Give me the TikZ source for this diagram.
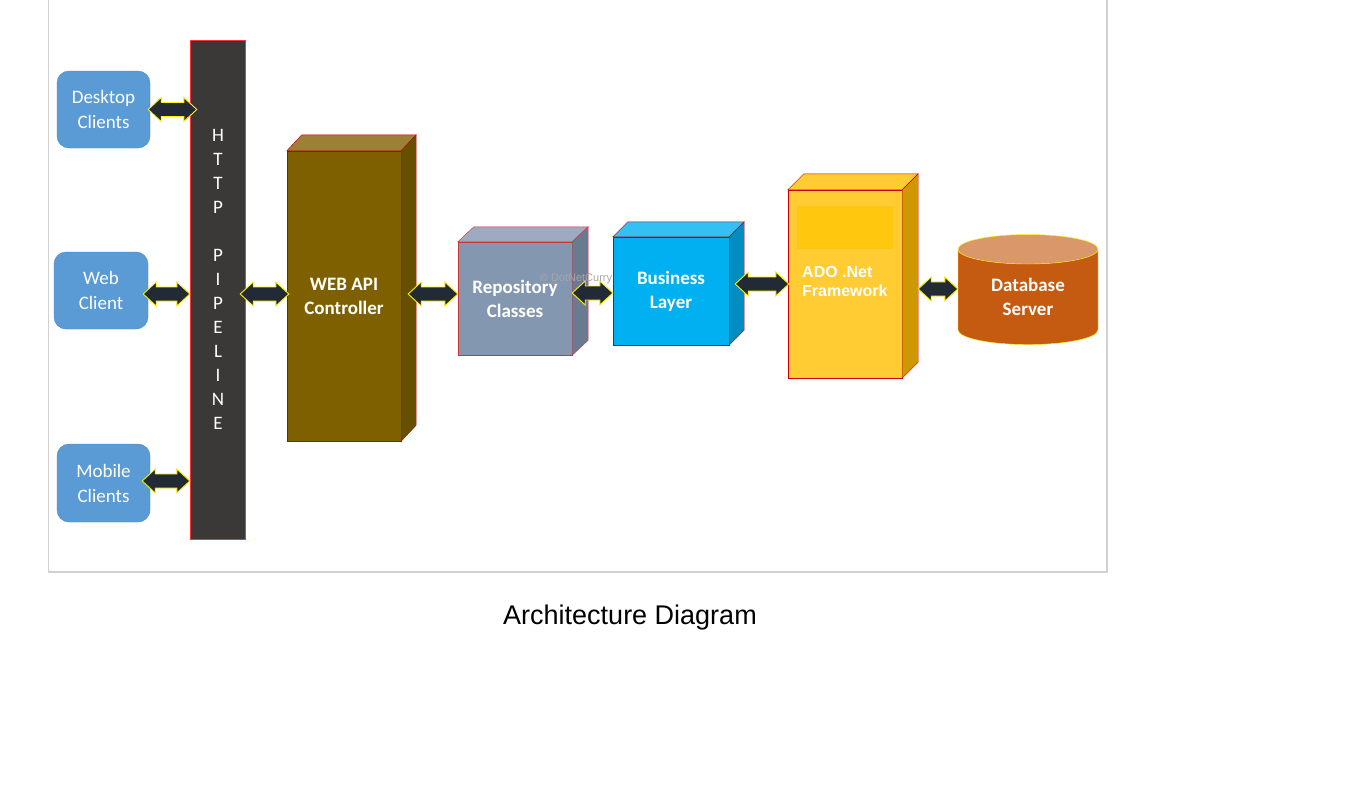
\documentclass[tikz,border=0pt]{standalone}
\usepackage{fontspec}
\setmainfont{Carlito}
\newfontfamily\arialfont{Liberation Sans}
\usetikzlibrary{calc, shapes.geometric}

\definecolor{clientblue}{HTML}{5B9BD5}
\definecolor{clientedge}{HTML}{4A86BE}
\definecolor{pipegray}{HTML}{3B3838}
\definecolor{arrowdark}{HTML}{222A35}
\definecolor{boxred}{HTML}{C00000}

\tikzset{
  client/.style={rounded corners=12pt, fill=clientblue, draw=clientedge, text=white,
    inner sep=0pt, align=center, font=\fontsize{19}{25}\selectfont},
  front/.style={inner sep=0pt, draw=boxred, text=white, align=center,
    font=\bfseries\fontsize{19}{24}\selectfont},
  dblarrow/.style={fill=arrowdark, draw=yellow, line width=0.9pt, line join=miter,
    to path={let \p1=(\tikztostart), \p2=(\tikztotarget) in
      (\x1,\y1) -- (\x1+13pt,\y1+12pt) -- (\x1+13pt,\y1+7pt) -- (\x2-13pt,\y1+7pt)
      -- (\x2-13pt,\y1+12pt) -- (\x2,\y1) -- (\x2-13pt,\y1-12pt) -- (\x2-13pt,\y1-7pt)
      -- (\x1+13pt,\y1-7pt) -- (\x1+13pt,\y1-12pt) -- cycle}}
}

\begin{document}
\begin{tikzpicture}[x=1pt, y=-1pt]
\useasboundingbox (0,0) rectangle (1347,787);
\begin{scope}
    \clip (0,0) rectangle (1347,787);
    \draw[draw=black!18, line width=1.2pt] (48.5,-10) rectangle (1107,572);
\end{scope}

% clients
\node (dc) at (103.5, 109.5) [client, minimum width=93, minimum height=77] {Desktop\\Clients};
\node (wc) at (101, 290.5) [client, minimum width=94, minimum height=77] {Web\\Client};
\node (mc) at (103.5, 483) [client, minimum width=93, minimum height=78] {Mobile\\Clients};

% http pipeline
\node (pipe) at (217.5, 289.5) [fill=pipegray, draw=red!80, minimum width=55, minimum height=499, inner sep=0pt] {};
\node (pipetxt) at (218, 279) [text=white, align=center, font=\fontsize{19}{24}\selectfont]
    {H\\T\\T\\P\\[24pt]P\\I\\P\\E\\L\\I\\N\\E};

% web api controller
\node (api) at (344, 296) [front, fill={rgb,255:red,127;green,96;blue,0}, minimum width=114, minimum height=290] {WEB API\\Controller};
\filldraw[draw=boxred, fill={rgb,255:red,155;green,128;blue,53}] (api.north west) -- ++(15,-16) -- ([shift={(15,-16)}]api.north east) -- (api.north east) -- cycle;
\filldraw[draw=boxred, fill={rgb,255:red,102;green,80;blue,0}] (api.north east) -- ++(15,-16) -- ([shift={(15,-16)}]api.south east) -- (api.south east) -- cycle;

% repository
\node (repo) at (515, 298.5) [front, fill={rgb,255:red,132;green,151;blue,176}, draw=red!75!black!80, minimum width=114, minimum height=113] {Repository\\Classes};
\filldraw[draw=red!75!black!80, fill={rgb,255:red,157;green,170;blue,191}] (repo.north west) -- ++(16,-15) -- ([shift={(16,-15)}]repo.north east) -- (repo.north east) -- cycle;
\filldraw[draw=red!75!black!80, fill={rgb,255:red,106;green,122;blue,145}] (repo.north east) -- ++(16,-15) -- ([shift={(16,-15)}]repo.south east) -- (repo.south east) -- cycle;

% business layer
\node (bl) at (671, 291) [front, fill={rgb,255:red,0;green,176;blue,240}, minimum width=116, minimum height=108] {Business\\Layer};
\filldraw[draw=boxred, fill={rgb,255:red,51;green,193;blue,243}] (bl.north west) -- ++(15,-15) -- ([shift={(15,-15)}]bl.north east) -- (bl.north east) -- cycle;
\filldraw[draw=boxred, fill={rgb,255:red,0;green,141;blue,192}] (bl.north east) -- ++(15,-15) -- ([shift={(15,-15)}]bl.south east) -- (bl.south east) -- cycle;

% ado .net
\node (ado) at (845, 284) [front, fill={rgb,255:red,255;green,204;blue,51}, draw=red!80!black, minimum width=114, minimum height=188] {};
\filldraw[draw=red!80!black, fill={rgb,255:red,255;green,204;blue,51}] (ado.north west) -- ++(16,-16) -- ([shift={(16,-16)}]ado.north east) -- (ado.north east) -- cycle;
\filldraw[draw=red!80!black, fill={rgb,255:red,204;green,153;blue,0}] (ado.north east) -- ++(16,-16) -- ([shift={(16,-16)}]ado.south east) -- (ado.south east) -- cycle;
\node (adoband) at (845, 227.5) [fill={rgb,255:red,255;green,200;blue,14}, minimum width=96, minimum height=43, inner sep=0pt] {};
\node (adotxt) at (802, 281) [anchor=west, inner sep=0pt, text=white, align=left,
    font=\arialfont\bfseries\fontsize{16}{19}\selectfont] {ADO .Net\\Framework};

% database
\node (db) at (1028, 297) [cylinder, shape border rotate=90, aspect=0.4, draw=yellow,
    cylinder uses custom fill, cylinder body fill={rgb,255:red,197;green,90;blue,17},
    cylinder end fill={rgb,255:red,218;green,151;blue,106},
    minimum width=140, minimum height=110, inner sep=0pt, text=white, align=center,
    font=\bfseries\fontsize{19}{24}\selectfont] {Database\\Server};

% watermark
\node (wm) at (576, 279) [text=black!35, font=\arialfont\fontsize{11}{13}\selectfont] {\textcopyright{} DotNetCurry};

% connectors
\path[dblarrow] ([xshift=-2]dc.east) to ([xshift=7]dc.east -| pipe.west);
\path[dblarrow] ([xshift=-5,yshift=-3.5]wc.east) to ([yshift=-3.5]wc.east -| pipe.west);
\path[dblarrow] ([xshift=-8,yshift=2]mc.east) to ([yshift=2]mc.east -| pipe.west);
\path[dblarrow] ([xshift=-5,yshift=2]pipe.east |- api.west) to ([xshift=2,yshift=2]api.west);
\path[dblarrow] ([xshift=7,yshift=2]api.east) to ([yshift=2]api.east -| repo.west);
\path[dblarrow] ([yshift=5.5]repo.east) to ([yshift=5.5]repo.east -| bl.west);
\path[dblarrow] ([xshift=6,yshift=7]bl.east) to ([xshift=1,yshift=7]bl.east -| ado.west);
\path[dblarrow] ([xshift=16,yshift=8]ado.east |- db.west) to ([yshift=8]db.west);

% caption
\node (caption) at (630, 618) [font=\arialfont\fontsize{27}{32}\selectfont] {Architecture Diagram};
\end{tikzpicture}
\end{document}
